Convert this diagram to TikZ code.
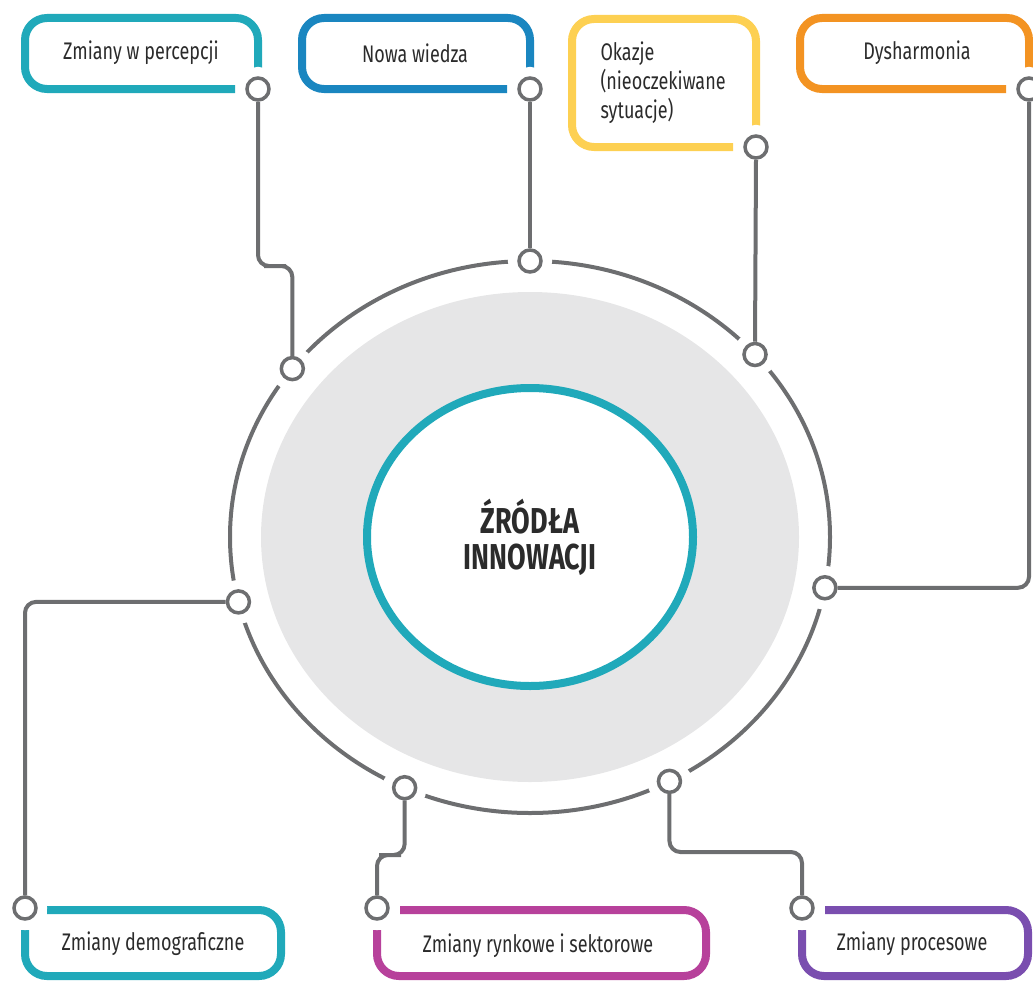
\documentclass[tikz,border=0pt]{standalone}
\usepackage{fontspec}
\setmainfont{Fira Sans}[FakeStretch=0.75]
\usetikzlibrary{positioning}
\definecolor{tealc}{HTML}{20A9BA}
\definecolor{bluec}{HTML}{1A86C0}
\definecolor{yellowc}{HTML}{FDD052}
\definecolor{orangec}{HTML}{F39322}
\definecolor{magentac}{HTML}{B7419B}
\definecolor{purplec}{HTML}{7A4EAF}
\definecolor{linegray}{HTML}{6D6E70}
\definecolor{fillgray}{HTML}{E6E6E7}
\definecolor{textgray}{HTML}{2B2B2B}

\begin{document}
\begin{tikzpicture}[x=1pt,y=-1pt,
  conn/.style={draw=linegray,line width=4pt,rounded corners=11pt},
  port/.style={circle,draw=linegray,fill=white,line width=3.5pt,minimum size=22pt,inner sep=0pt,
    preaction={draw=white,line width=22pt}},
  frame/.style={line width=8pt,rounded corners=22pt},
  lbl/.style={font=\fontsize{24}{29}\selectfont,text=textgray}]
\useasboundingbox (0,0) rectangle (1033,982);

% centre
\coordinate (c) at (530,537);
\fill[fillgray] (c) ellipse [x radius=269,y radius=245];
\draw[linegray,line width=4pt] (c) ellipse [x radius=300,y radius=276];
\draw[tealc,fill=white,line width=8pt] (c) ellipse [x radius=163,y radius=149];
\node[font=\fontsize{36}{36}\selectfont\bfseries,text=textgray,align=center] (title) at (c) {ŹRÓDŁA\\INNOWACJI};

% frames
\draw[frame,tealc] (235,89) -- (25,89) -- (25,18) -- (258,18) -- (258,72);
\draw[frame,bluec] (507,89) -- (302,89) -- (302,18) -- (530,18) -- (530,72);
\draw[frame,yellowc] (733,147) -- (572,147) -- (572,19) -- (756,19) -- (756,130);
\draw[frame,orangec] (1006,89) -- (800,89) -- (800,18) -- (1029,18) -- (1029,72);
\draw[frame,tealc] (47,910) -- (281,910) -- (281,976) -- (25,976) -- (25,930);
\draw[frame,magentac] (400,910) -- (706,910) -- (706,976) -- (377,976) -- (377,930);
\draw[frame,purplec] (825,910) -- (1028,910) -- (1028,976) -- (802,976) -- (802,930);

\node[lbl] (perc) at (141,53) {Zmiany w percepcji};
\node[lbl] (wiedza) at (415,53) {Nowa wiedza};
\node[lbl,align=left,anchor=west] (okazje) at (597,83) {Okazje\\(nieoczekiwane\\sytuacje)};
\node[lbl] (dysh) at (917,53) {Dysharmonia};
\node[lbl] (demo) at (153,944) {Zmiany demograficzne};
\node[lbl] (rynek) at (538,946) {Zmiany rynkowe i sektorowe};
\node[lbl] (proc) at (912,944) {Zmiany procesowe};

% ports on the frames
\node[port] (p1) at (258,89) {};
\node[port] (p2) at (530,89) {};
\node[port] (p3) at (756,147) {};
\node[port] (p4) at (1029,89) {};
\node[port] (p5) at (25,908) {};
\node[port] (p6) at (377,908) {};
\node[port] (p7) at (802,908) {};

% ports on the ring
\path (c) ++(217.6:300 and 276) node[port] (r1) {};
\path (c) ++(270:300 and 276) node[port] (r2) {};
\path (c) ++(318.6:300 and 276) node[port] (r3) {};
\path (c) ++(10.6:300 and 276) node[port] (r4) {};
\path (c) ++(166.4:300 and 276) node[port] (r5) {};
\path (c) ++(114.7:300 and 276) node[port] (r6) {};
\path (c) ++(62.3:300 and 276) node[port] (r7) {};

\draw[conn] (p1.south) |- (275,266) -| (r1.north);
\draw[conn] (p2.south) -- (r2.north);
\draw[conn] (p3.south) -- (r3.north);
\draw[conn] (p4.south) |- (r4.east);
\draw[conn] (r5.west) -| (p5.north);
\draw[conn] (r6.south) |- (390,855) -| (p6.north);
\draw[conn] (r7.south) |- (735,852) -| (p7.north);
\end{tikzpicture}
\end{document}
